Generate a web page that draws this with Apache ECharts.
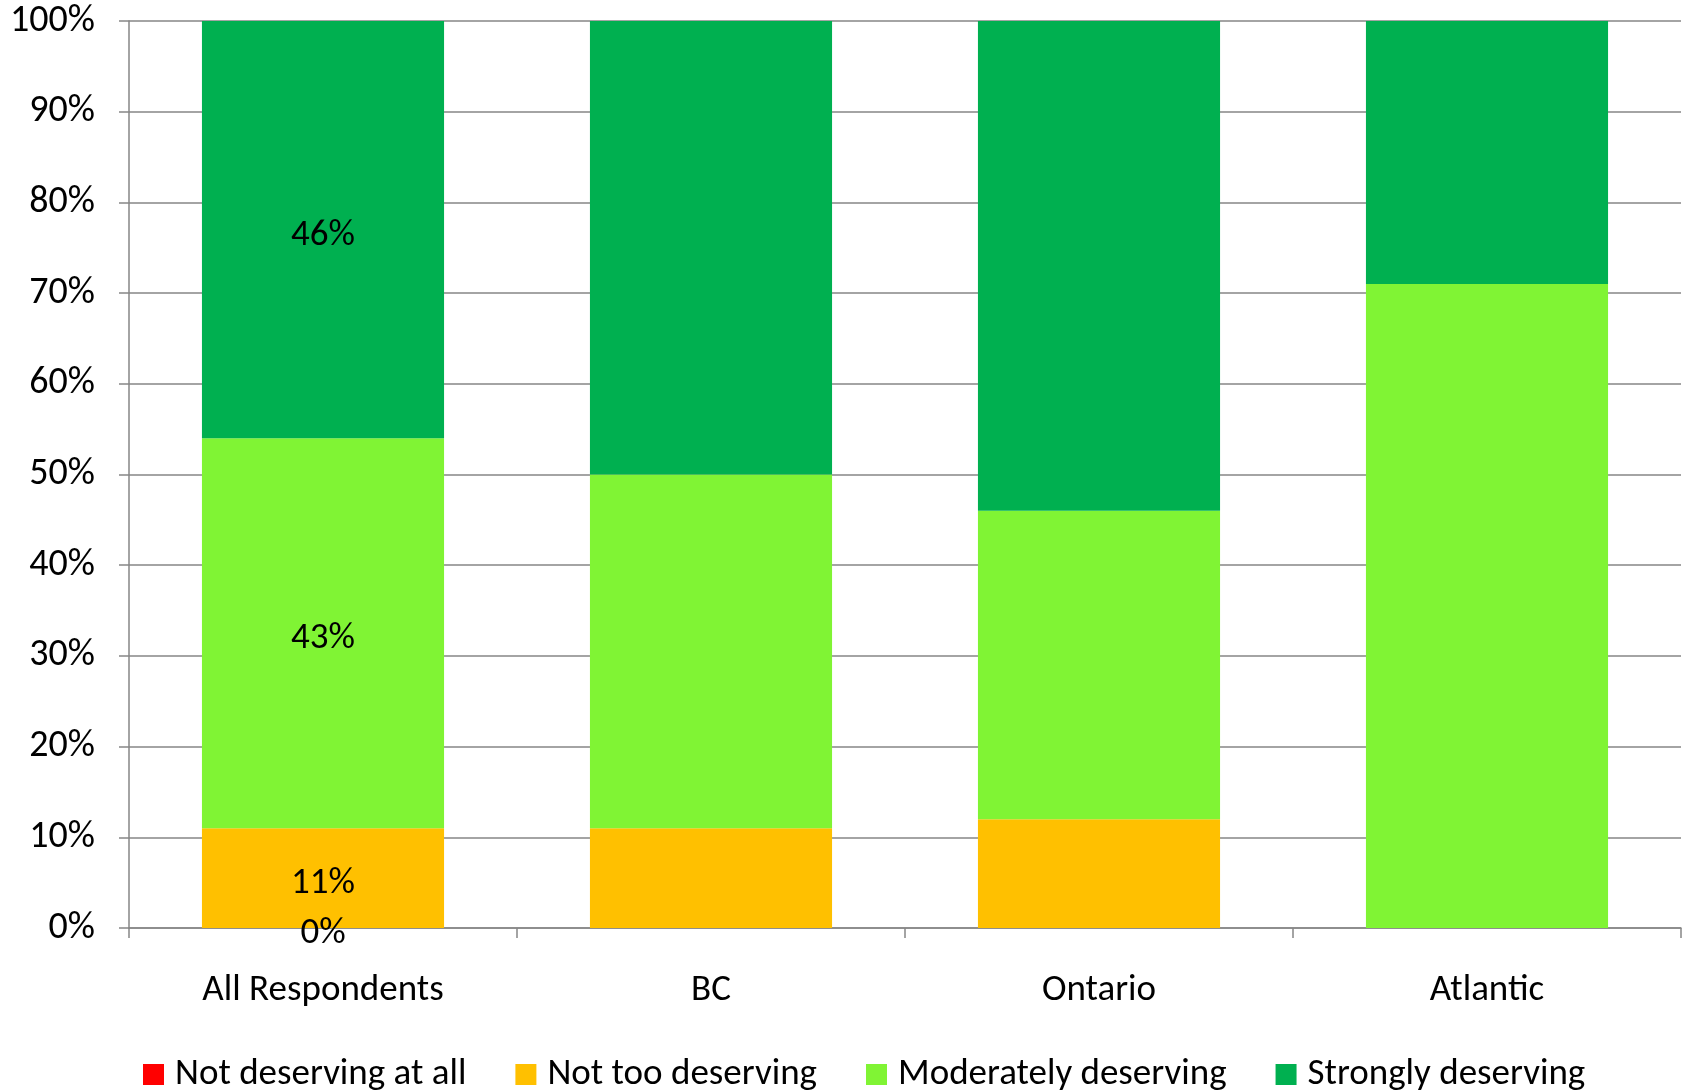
<!DOCTYPE html>
<html>
<head>
<meta charset="utf-8">
<title>Deserving by region</title>
<script src="https://cdn.jsdelivr.net/npm/echarts@6/dist/echarts.min.js"></script>
<style>
  html, body { margin: 0; padding: 0; background: #ffffff; }
  #chart { width: 1685px; height: 1091px; }
</style>
</head>
<body>
<div id="chart"></div>
<script>
// Regions along the category axis
const categories = ['All Respondents', 'BC', 'Ontario', 'Atlantic'];

// Share of responses (%) per region, stacked bottom to top
const notDeservingAtAll = [0, 0, 0, 0];
const notTooDeserving = [11, 11, 12, 0];
const moderatelyDeserving = [43, 39, 34, 71];
const stronglyDeserving = [46, 50, 54, 29];

// Value axis ticks
const yTicks = [0, 10, 20, 30, 40, 50, 60, 70, 80, 90, 100];

// Only the first region carries value labels
const labelledCategories = ['All Respondents'];

const FONT = 'Carlito, Lato, "Open Sans", sans-serif';
const FONT_SIZE = 37;
const GRID_COLOR = '#868686';

function makeSeries(name, values, color) {
  return {
    name: name,
    type: 'bar',
    stack: 'total',
    barWidth: '62.4%',
    itemStyle: { color: color },
    label: {
      show: true,
      position: 'inside',
      offset: [0, 6],
      color: '#000000',
      fontFamily: FONT,
      fontSize: FONT_SIZE,
      formatter: function (p) {
        return labelledCategories.indexOf(p.name) >= 0 ? p.value + '%' : '';
      }
    },
    emphasis: { disabled: true },
    data: values
  };
}

const chart = echarts.init(document.getElementById('chart'), null, { renderer: 'canvas' });

chart.setOption({
  animation: false,
  backgroundColor: '#ffffff',
  grid: { left: 129, right: 4, top: 21, bottom: 163, containLabel: false },
  legend: {
    top: 1051,
    left: 138,
    itemWidth: 21,
    itemHeight: 21,
    itemGap: 49,
    icon: 'rect',
    textStyle: { fontFamily: FONT, fontSize: FONT_SIZE, color: '#000000', padding: [0, 0, 0, 6] },
    data: ['Not deserving at all', 'Not too deserving', 'Moderately deserving', 'Strongly deserving']
  },
  xAxis: {
    type: 'category',
    data: categories,
    axisLine: { show: true, lineStyle: { color: GRID_COLOR, width: 1.5 } },
    axisTick: { show: true, alignWithLabel: false, length: 10, lineStyle: { color: GRID_COLOR, width: 1.5 } },
    axisLabel: { fontFamily: FONT, fontSize: FONT_SIZE, color: '#000000', margin: 44 }
  },
  yAxis: {
    type: 'value',
    min: yTicks[0],
    max: yTicks[yTicks.length - 1],
    interval: yTicks[1] - yTicks[0],
    axisLine: { show: true, lineStyle: { color: GRID_COLOR, width: 1.5 } },
    axisTick: { show: true, length: 10, lineStyle: { color: GRID_COLOR, width: 1.5 } },
    splitLine: { show: true, lineStyle: { color: GRID_COLOR, width: 1.5 } },
    axisLabel: {
      fontFamily: FONT, fontSize: 38, color: '#000000', margin: 34,
      formatter: function (v) { return v + '%'; }
    }
  },
  series: [
    makeSeries('Not deserving at all', notDeservingAtAll, '#FF0000'),
    makeSeries('Not too deserving', notTooDeserving, '#FFC000'),
    makeSeries('Moderately deserving', moderatelyDeserving, '#80F434'),
    makeSeries('Strongly deserving', stronglyDeserving, '#00B050')
  ]
});
</script>
</body>
</html>
